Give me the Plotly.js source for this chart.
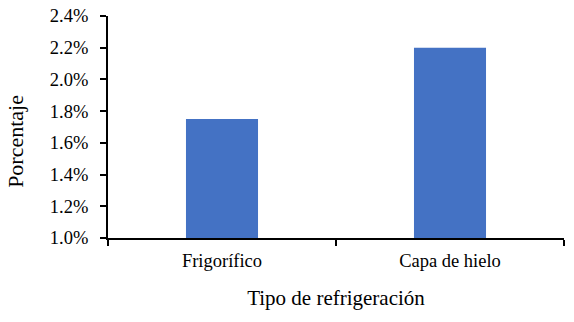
<!DOCTYPE html>
<html>
<head>
<meta charset="utf-8">
<script src="https://cdn.plot.ly/plotly-3.0.1.min.js"></script>
<style>html,body{margin:0;padding:0;background:#fff;}#chart{width:574px;height:322px;}</style>
</head>
<body>
<div id="chart"></div>
<script>
var categories = ["Frigorífico", "Capa de hielo"];
var values = [0.0175, 0.022];
var yTicks = [0.010, 0.012, 0.014, 0.016, 0.018, 0.020, 0.022, 0.024];

var fontFam = "'Liberation Serif', 'Times New Roman', serif";
Plotly.newPlot('chart', [{
  type: 'bar',
  x: categories,
  y: values,
  marker: {color: '#4472C4'},
  width: 0.316,
  hoverinfo: 'none'
}], {
  width: 574, height: 322,
  margin: {l: 108, r: 10, t: 16, b: 84},
  paper_bgcolor: '#fff', plot_bgcolor: '#fff',
  font: {family: fontFam, color: '#000', size: 16},
  showlegend: false,
  xaxis: {
    type: 'category',
    showline: true, linecolor: '#000', linewidth: 2,
    ticks: 'outside', tickson: 'boundaries', ticklen: 6, tickwidth: 2, tickcolor: '#000',
    showgrid: false, zeroline: false,
    tickfont: {size: 18.5, family: fontFam},
    ticklabelstandoff: 5,
    title: {text: 'Tipo de refrigeración', font: {size: 21, family: fontFam}, standoff: 20}
  },
  yaxis: {
    range: [0.010, 0.024],
    tickvals: yTicks,
    tickformat: '.1%',
    showline: true, linecolor: '#000', linewidth: 2,
    ticks: 'outside', ticklen: 6, tickwidth: 2, tickcolor: '#000',
    showgrid: false, zeroline: false,
    tickfont: {size: 18.5, family: fontFam},
    ticklabelstandoff: 8
  },
  annotations: [{
    text: 'Porcentaje', textangle: -90,
    xref: 'paper', yref: 'paper', x: -0.202, y: 0.437,
    xanchor: 'center', yanchor: 'middle', showarrow: false,
    font: {size: 22, family: fontFam, color: '#000'}
  }]
}, {staticPlot: true});
</script>
</body>
</html>
